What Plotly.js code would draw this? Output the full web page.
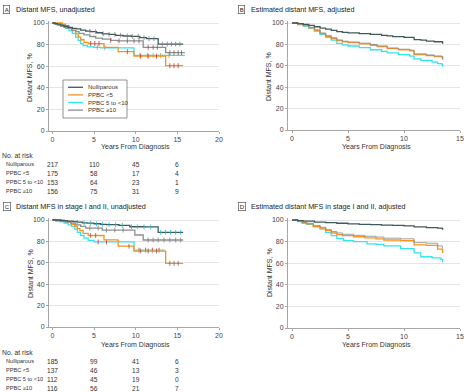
<!DOCTYPE html>
<html><head><meta charset="utf-8">
<script src="https://cdn.plot.ly/plotly-3.0.1.min.js"></script>
<style>html,body{margin:0;padding:0;background:#fff}#chart{width:468px;height:392px}</style>
</head><body><div id="chart"></div>
<script>
// ---------- data ----------
const seriesNames = ["Nulliparous", "PPBC <5", "PPBC 5 to <10", "PPBC \u226510"];
const panelTitles = ["Distant MFS, unadjusted", "Estimated distant MFS, adjusted",
  "Distant MFS in stage I and II, unadjusted", "Estimated distant MFS in stage I and II, adjusted"];
const panelLetters = ["A", "B", "C", "D"];
const xTicksAC = [0, 5, 10, 15, 20];
const xTicksBD = [0, 5, 10, 15];
const yTicks = [0, 20, 40, 60, 80, 100];
const riskTimes = [0, 5, 10, 15];

// Panel A (unadjusted KM)
const aNulliT = [0, 0.3, 0.6, 1.0, 1.4, 1.9, 2.4, 2.9, 3.4, 4.0, 4.6, 5.3, 6.0, 6.8, 7.6, 8.5, 9.5, 10.5, 11.3, 12.7, 15.7];
const aNulliV = [100, 99.5, 99, 98, 97, 96, 95, 94.5, 93.5, 92.5, 92, 91, 90, 89.5, 88.6, 88, 87.7, 86.5, 85.5, 80.5, 80.5];
const aLt5T = [0, 1.2, 1.6, 2.0, 2.4, 2.8, 3.1, 3.4, 3.8, 4.3, 6.2, 7.9, 9.8, 13.6, 15.7];
const aLt5V = [100, 99, 97.5, 95.5, 93, 90, 87, 84.5, 82, 81, 77.5, 73.5, 69.3, 60.5, 60.5];
const a5to10T = [0, 0.4, 0.8, 1.2, 1.6, 2.0, 2.4, 2.8, 3.1, 3.4, 3.7, 4.2, 5.0, 5.8, 9.8, 15.9];
const a5to10V = [100, 99, 98, 97, 95, 93, 90.5, 87, 84, 81, 79, 78, 77.5, 77, 70, 70];
const aGe10T = [0, 0.3, 0.6, 1.0, 1.4, 1.8, 2.3, 2.8, 3.2, 3.8, 4.5, 5.2, 6.0, 7.0, 7.8, 10.9, 13.6, 15.9];
const aGe10V = [100, 99, 98, 97, 96, 95, 93.5, 92, 90.5, 89, 87.5, 86, 85, 84, 83.5, 77.5, 72.5, 72.5];
const aNulliCens = [4.5, 5.2, 6.1, 6.8, 7.5, 8.2, 9.0, 9.6, 10.3, 11.0, 11.6, 12.2, 13.2, 13.8, 14.3, 14.8, 15.3];
const aLt5Cens = [4.6, 5.1, 5.6, 9.0, 10.6, 11.5, 12.5, 14.1, 14.6, 15.1];
const a5to10Cens = [5.4, 6.3, 10.5, 11.4, 12.1, 13.0, 14.0];
const aGe10Cens = [7.0, 8.0, 9.0, 9.8, 10.4, 11.5, 12.1, 12.6, 14.1, 14.6, 15.1, 15.5];

// Panel B (adjusted)
const bNulliT = [0, 0.5, 1.0, 1.5, 2.0, 2.5, 3.0, 3.5, 4.0, 4.5, 5.0, 6.0, 7.0, 8.0, 8.5, 9.0, 10.0, 10.9, 11.5, 12.0, 12.7, 13.4, 13.45];
const bNulliV = [100, 99.5, 98.8, 97.8, 96.5, 95.3, 94.2, 93.2, 92, 91.2, 90.7, 90, 89.3, 88.5, 88, 87.2, 86.5, 84.5, 84, 83, 82.5, 82.3, 80.5];
const bLt5T = [0, 0.5, 1.0, 1.5, 2.0, 2.5, 3.0, 3.5, 4.0, 4.5, 5.0, 6.0, 7.0, 7.6, 8.5, 9.5, 10.5, 10.9, 12.0, 12.7, 13.4, 13.45];
const bLt5V = [100, 99, 97.5, 95.5, 93, 90, 87.5, 85.5, 83.5, 82.3, 81.6, 80.5, 79.2, 77.9, 76, 74.8, 74, 70.5, 69.5, 68.5, 68, 65.5];
const b5to10T = [0, 0.5, 1.0, 1.5, 2.0, 2.5, 3.0, 3.5, 4.0, 4.5, 5.0, 6.0, 7.0, 8.0, 8.5, 9.5, 10.5, 10.9, 11.5, 12.5, 13.0, 13.4, 13.45];
const b5to10V = [100, 98.5, 97, 95, 92.5, 89.5, 86.5, 84, 81, 79.5, 78.5, 77, 75, 73.5, 72, 70.5, 69, 66.5, 65, 63.5, 62, 61, 59];
const bGe10T = [0, 0.5, 1.0, 1.5, 2.0, 2.5, 3.0, 3.5, 4.0, 4.5, 5.0, 6.0, 7.0, 7.6, 8.5, 9.5, 10.5, 10.9, 12.0, 12.7, 13.4, 13.45];
const bGe10V = [100, 99.3, 98, 96, 93.6, 90.7, 88.2, 86.2, 84.2, 83, 82.3, 81.2, 79.9, 78.6, 76.7, 75.5, 74.7, 71.2, 70.2, 69.2, 68.7, 66.3];

// Panel C (stage I and II, unadjusted KM)
const cNulliT = [0, 1.0, 1.8, 2.5, 3.0, 3.6, 4.2, 5.0, 5.8, 6.5, 8.0, 9.3, 11.0, 12.7, 15.7];
const cNulliV = [100, 99.5, 99, 98.5, 98, 97.3, 97, 96.5, 96, 95.6, 95, 93.7, 93.5, 88.5, 88.5];
const cLt5T = [0, 1.4, 1.9, 2.3, 2.7, 3.0, 3.3, 3.7, 4.3, 6.2, 7.9, 9.8, 13.6, 15.7];
const cLt5V = [100, 99, 98, 96, 94, 92, 90, 87.5, 85.5, 81.5, 75.5, 71, 59.5, 59.5];
const c5to10T = [0, 0.4, 0.9, 1.4, 1.9, 2.3, 2.7, 3.0, 3.4, 3.8, 4.3, 5.0, 9.8, 13.5];
const c5to10V = [100, 99, 98.5, 97, 95.5, 94, 91.5, 88.5, 85.5, 83, 81, 79.5, 71.8, 71.8];
const cGe10T = [0, 0.5, 1.0, 1.6, 2.2, 2.8, 3.4, 4.0, 6.0, 9.9, 10.9, 15.7];
const cGe10V = [100, 99.5, 99, 98, 97, 95.5, 94, 92.5, 90.6, 86, 81.3, 81.3];
const cNulliCens = [3.0, 3.8, 4.6, 5.3, 6.0, 6.8, 7.6, 8.4, 9.5, 10.2, 11.0, 11.8, 13.0, 13.6, 14.2, 14.8, 15.4];
const cLt5Cens = [4.6, 5.2, 9.2, 10.6, 11.5, 12.5, 14.1, 14.6, 15.1];
const c5to10Cens = [5.5, 6.5, 10.4, 11.2, 12.0, 12.8];
const cGe10Cens = [4.5, 5.5, 6.5, 7.5, 8.5, 11.5, 12.1, 12.7, 13.4, 14.1, 14.8, 15.4];

// Panel D (stage I and II, adjusted)
const dNulliT = [0, 0.5, 1.0, 2.0, 3.0, 4.0, 5.0, 6.0, 7.0, 8.0, 9.0, 10.0, 10.9, 12.0, 13.0, 13.4, 13.45];
const dNulliV = [100, 99.5, 99, 98, 97.5, 97, 96.5, 96, 95.7, 95.3, 95, 94.5, 93.6, 93, 92.5, 92, 91];
const dLt5T = [0, 0.5, 0.9, 1.3, 1.9, 2.5, 3.0, 3.5, 4.0, 4.5, 5.5, 6.5, 7.5, 8.2, 9.7, 10.9, 12.0, 13.0, 13.4, 13.45];
const dLt5V = [100, 99, 97.5, 96.5, 94, 92.5, 90.5, 88, 86.5, 85.5, 84.5, 83.5, 82.5, 81.5, 81, 77, 76.5, 73, 72.5, 69.5];
const d5to10T = [0, 0.5, 0.9, 1.3, 1.9, 2.5, 3.0, 3.5, 4.0, 4.6, 5.5, 6.7, 7.5, 8.2, 9.7, 10.9, 11.5, 12.5, 13.3, 13.45];
const d5to10V = [100, 98.5, 97, 96, 94, 91.5, 88.5, 85.5, 83, 81, 80, 78, 77.5, 76, 73.5, 69.5, 66, 65, 63.5, 61];
const dGe10T = [0, 0.5, 0.9, 1.3, 1.9, 2.5, 3.0, 3.5, 4.0, 4.5, 5.5, 6.5, 7.5, 8.2, 9.7, 10.9, 12.0, 13.0, 13.4, 13.45];
const dGe10V = [100, 99.2, 98, 97, 95, 93.3, 91.3, 89.3, 88, 86.8, 85.8, 85, 84.2, 83.2, 82.6, 79, 78.5, 76, 75.5, 73.5];

// Numbers at risk
const riskA = [[217, 110, 45, 6], [175, 58, 17, 4], [153, 64, 23, 1], [156, 75, 31, 9]];
const riskC = [[185, 99, 41, 6], [137, 46, 13, 3], [112, 45, 19, 0], [116, 56, 21, 7]];

// ---------- styling ----------
const colors = ["#3e5b5c", "#f7941d", "#35e4ee", "#8e8e8e"];
const FONT = '"Liberation Sans", Arial, sans-serif';
const W = 468, H = 392;
const px = x => x / W;
const py = y => 1 - y / H;

function stepAt(ts, vs, t) {
  let v = vs[0];
  for (let i = 0; i < ts.length; i++) { if (ts[i] <= t) v = vs[i]; }
  return v;
}

const panels = [
  { ax: "", series: [[aNulliT, aNulliV, aNulliCens], [aLt5T, aLt5V, aLt5Cens], [a5to10T, a5to10V, a5to10Cens], [aGe10T, aGe10V, aGe10Cens]] },
  { ax: "2", series: [[bNulliT, bNulliV], [bLt5T, bLt5V], [b5to10T, b5to10V], [bGe10T, bGe10V]] },
  { ax: "3", series: [[cNulliT, cNulliV, cNulliCens], [cLt5T, cLt5V, cLt5Cens], [c5to10T, c5to10V, c5to10Cens], [cGe10T, cGe10V, cGe10Cens]] },
  { ax: "4", series: [[dNulliT, dNulliV], [dLt5T, dLt5V], [d5to10T, d5to10V], [dGe10T, dGe10V]] }
];
const drawOrder = [2, 1, 3, 0];
const traces = [];
panels.forEach((p, pi) => {
  drawOrder.forEach(i => {
    const s = p.series[i];
    const adj = (pi === 1 || pi === 3);
    traces.push({
      type: "scatter", mode: "lines", x: s[0], y: s[1],
      xaxis: "x" + p.ax, yaxis: "y" + p.ax,
      line: { color: colors[i], width: adj && i === 3 ? 1 : 1.3, shape: "hv" },
      opacity: adj && i === 3 ? 0.85 : 1,
      showlegend: false, hoverinfo: "skip"
    });
    if (s[2]) {
      traces.push({
        type: "scatter", mode: "markers", x: s[2], y: s[2].map(t => stepAt(s[0], s[1], t)),
        xaxis: "x" + p.ax, yaxis: "y" + p.ax,
        marker: { symbol: "line-ns-open", size: 3.5, line: { color: colors[i], width: 0.8 } },
        showlegend: false, hoverinfo: "skip"
      });
    }
  });
});

const tickFont = { family: FONT, size: 7, color: "#444" };
function xAxis(domain, range, tv) {
  return { domain, range, tickvals: tv, ticktext: tv.map(String), showgrid: false, zeroline: false,
    showline: true, linecolor: "#a6a6a6", linewidth: 1, ticks: "outside", ticklen: 2, tickcolor: "#a6a6a6",
    tickfont: tickFont, fixedrange: true };
}
function yAxis(domain, anchor) {
  return { domain, range: [0, 101.5], tickvals: yTicks, ticktext: yTicks.map(String), showgrid: true,
    gridcolor: "#e4e4e4", gridwidth: 1, zeroline: false, showline: true, linecolor: "#a6a6a6", linewidth: 1,
    ticks: "outside", ticklen: 2, tickcolor: "#a6a6a6", tickfont: tickFont, fixedrange: true, anchor };
}

const layout = {
  width: W, height: H, margin: { l: 0, r: 0, t: 0, b: 0 }, paper_bgcolor: "#fff", plot_bgcolor: "#fff",
  showlegend: false, font: { family: FONT, size: 7, color: "#333" },
  xaxis: Object.assign(xAxis([px(49), px(219)], [-0.4, 20], xTicksAC), { anchor: "y" }),
  yaxis: yAxis([py(131), py(21.4)], "x"),
  xaxis2: Object.assign(xAxis([px(288), px(460)], [-0.36, 15], xTicksBD), { anchor: "y2" }),
  yaxis2: yAxis([py(130), py(21.4)], "x2"),
  xaxis3: Object.assign(xAxis([px(49), px(219)], [-0.4, 20], xTicksAC), { anchor: "y3" }),
  yaxis3: yAxis([py(327), py(218.4)], "x3"),
  xaxis4: Object.assign(xAxis([px(288), px(460)], [-0.36, 15], xTicksBD), { anchor: "y4" }),
  yaxis4: yAxis([py(328), py(218.4)], "x4"),
  annotations: [], shapes: []
};

const ann = layout.annotations;
function txt(text, x, y, opts) {
  ann.push(Object.assign({ text, x: px(x), y: py(y), xref: "paper", yref: "paper", showarrow: false,
    xanchor: "left", yanchor: "middle", font: { family: FONT, size: 6.8, color: "#333" } }, opts || {}));
}

// Panel letters + titles
const titlePos = [[3, 10], [238, 10], [3, 207], [238, 207]];
panelLetters.forEach((L, i) => {
  const [x, y] = titlePos[i];
  txt(L, x, y, { font: { family: FONT, size: 6, color: "#222" }, bordercolor: "#555", borderwidth: 0.7, borderpad: 1 });
  txt(panelTitles[i], x + 11, y, { font: { family: FONT, size: 7.2, color: "#222" } });
});

// Y-axis titles
[[30, 77], [269, 77], [30, 273], [269, 273]].forEach(([x, y]) => {
  txt("Distant MFS, %", x, y, { textangle: -90, xanchor: "center", font: { family: FONT, size: 7, color: "#333" } });
});
// X-axis titles
[[135, 147], [376, 147], [135, 344.5], [376, 344.5]].forEach(([x, y]) => {
  txt("Years From Diagnosis", x, y, { xanchor: "center", font: { family: FONT, size: 7, color: "#333" } });
});

// Risk tables
function riskTable(rows, xref, yTop) {
  txt("No. at risk", 0, yTop, { font: { family: FONT, size: 6.8, color: "#333" } });
  rows.forEach((r, i) => {
    const y = yTop + 9 * (i + 1);
    txt(seriesNames[i], 4, y, { font: { family: FONT, size: 5.6, color: "#333" } });
    r.forEach((n, j) => {
      ann.push({ text: String(n), x: riskTimes[j], y: py(y), xref: xref, yref: "paper", showarrow: false,
        xanchor: "center", yanchor: "middle", font: { family: FONT, size: 6.6, color: "#333" } });
    });
  });
}
riskTable(riskA, "x", 155);
riskTable(riskC, "x3", 352);

// Manual legend in panel A
layout.shapes.push({ type: "rect", xref: "paper", yref: "paper", x0: px(63), x1: px(127), y0: py(118), y1: py(80),
  line: { color: "#777", width: 0.8 }, fillcolor: "#fff", layer: "above" });
seriesNames.forEach((nm, i) => {
  const y = 87.3 + 7.6 * i;
  layout.shapes.push({ type: "line", xref: "paper", yref: "paper", x0: px(68), x1: px(83), y0: py(y), y1: py(y),
    line: { color: colors[i], width: 1.3 }, layer: "above" });
  txt(nm, 86, y, { font: { family: FONT, size: 6, color: "#333" } });
});

Plotly.newPlot("chart", traces, layout, { staticPlot: true, displayModeBar: false });
</script></body></html>
